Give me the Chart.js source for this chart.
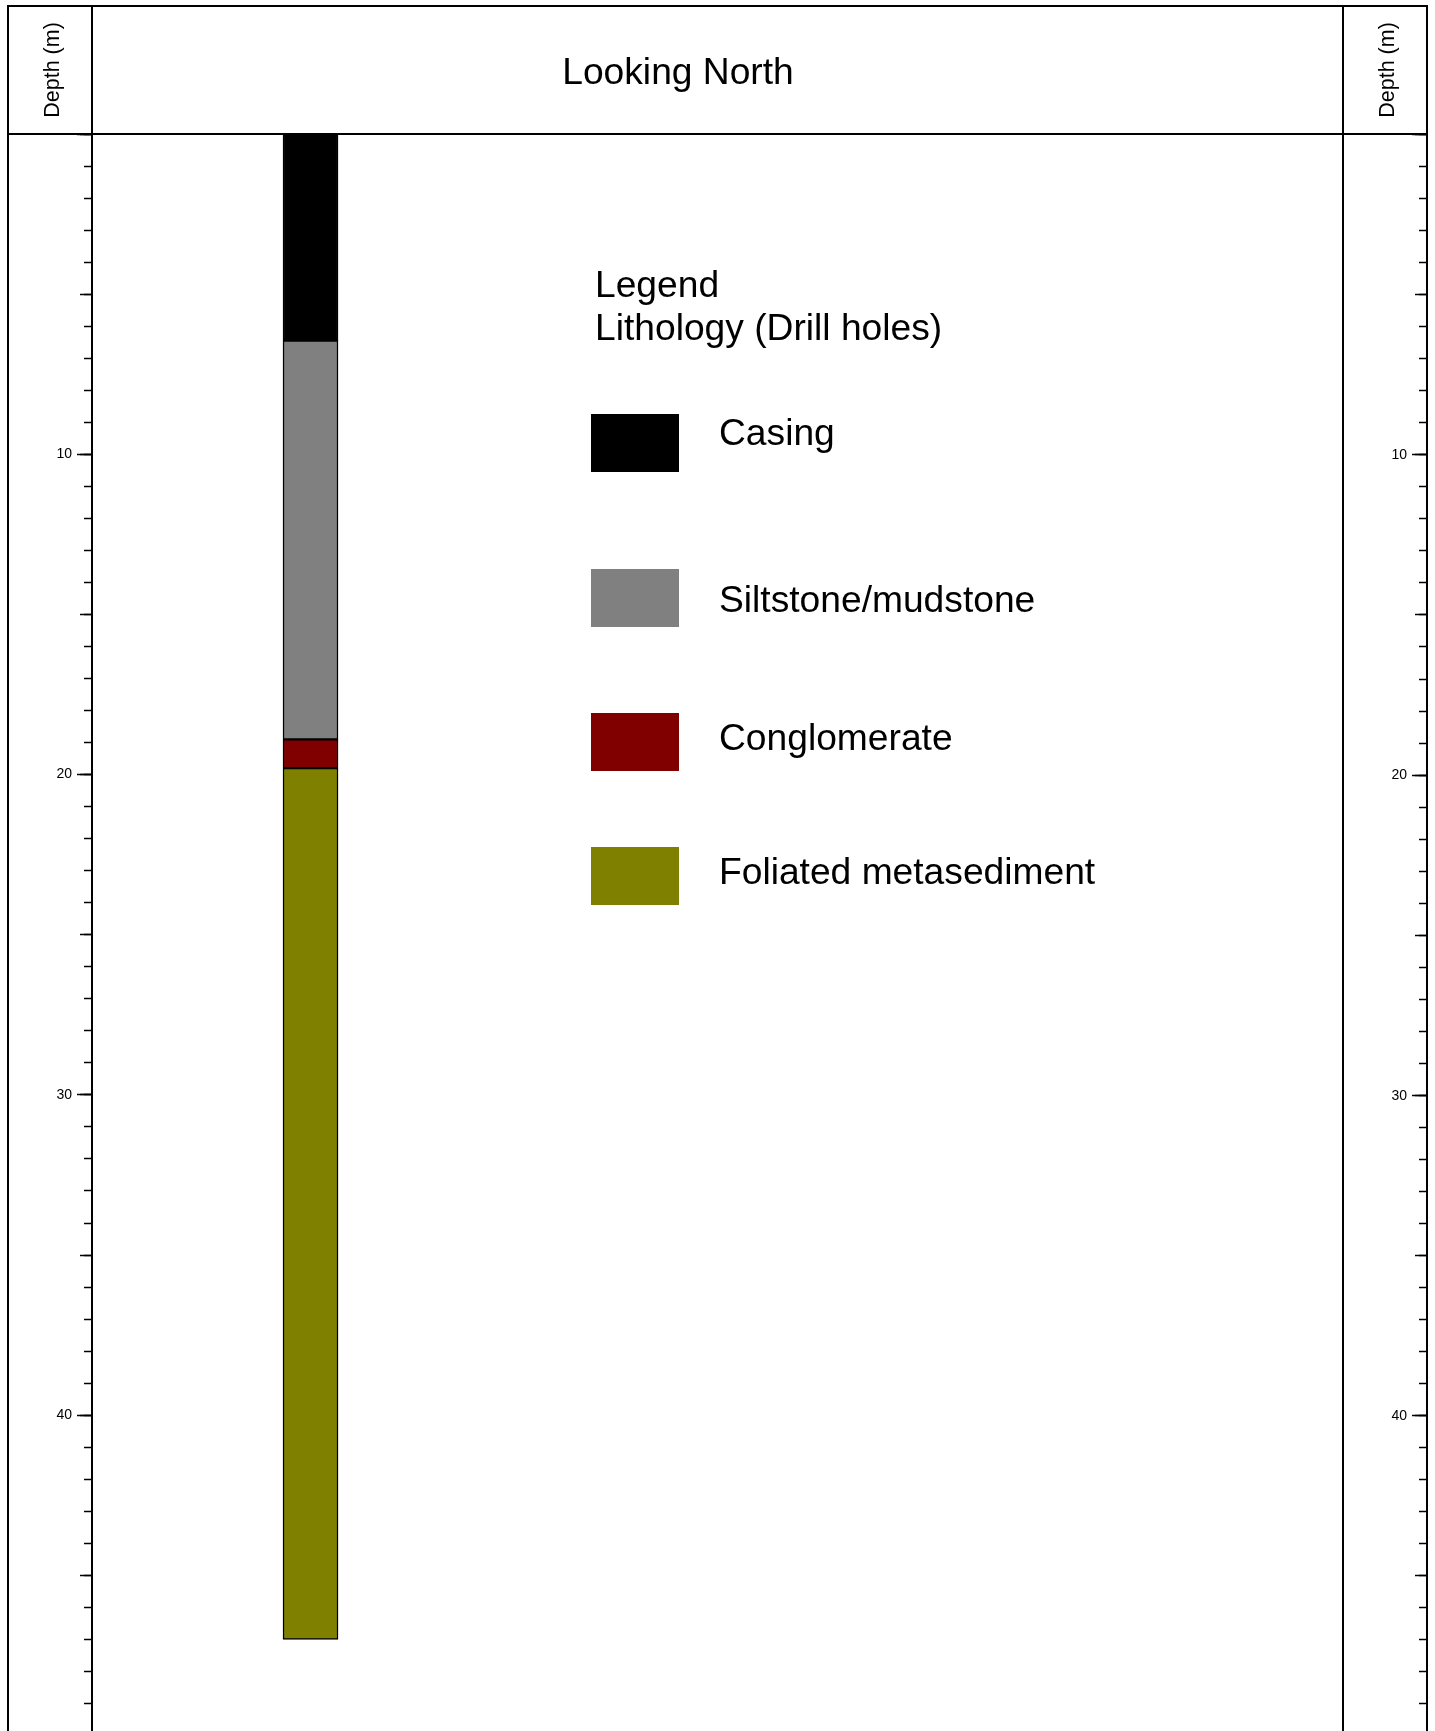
<!DOCTYPE html>
<html>
<head>
<meta charset="utf-8">
<script src="https://cdn.jsdelivr.net/npm/chart.js@4.4.1/dist/chart.umd.min.js"></script>
<style>
  html, body { margin: 0; padding: 0; background: #fff; }
  #wrap { width: 1435px; height: 1731px; position: relative; }
</style>
</head>
<body>
<div id="wrap"><canvas id="c"></canvas></div>
<script>
// ---- data ----
const units = ['Casing', 'Siltstone/mudstone', 'Conglomerate', 'Foliated metasediment'];
const fromDepth = [0, 6.45, 18.9, 19.8];
const toDepth = [6.45, 18.9, 19.8, 47.0];
const unitColors = ['#000000', '#808080', '#800000', '#808000'];
const holePosition = 0;
const depthMin = 0;
const depthMax = 49.86;
const titleText = 'Looking North';
const axisTitle = 'Depth (m)';
const legendTitleLines = ['Legend', 'Lithology (Drill holes)'];

// ---- layout (positions/styles) ----
const FONT = '"Liberation Sans", Arial, sans-serif';
const BIG = '37.2px ' + FONT;
const legendRowTop = [414, 569, 713, 847];
const legendTextBaseline = [445, 612, 750, 884];

const datasets = units.map((u, i) => ({
  label: u,
  data: [{ x: holePosition, y: [fromDepth[i], toDepth[i]] }],
  backgroundColor: unitColors[i],
  borderColor: '#000',
  borderWidth: 1.5,
  borderSkipped: false,
  barThickness: 55,
  grouped: false
}));

function fixFit(width) {
  return function (s) { s.width = width; s.paddingTop = 0; s.paddingBottom = 0; };
}

function tickAxis(step, len, weight) {
  return {
    type: 'linear', position: 'left', reverse: true, min: depthMin, max: depthMax, weight: weight,
    ticks: { display: false, stepSize: step, includeBounds: false, autoSkip: false, maxTicksLimit: 200 },
    grid: { drawOnChartArea: false, tickLength: len, tickWidth: 1.5, tickColor: '#000' },
    border: { display: false },
    afterFit: fixFit(0)
  };
}

const framePlugin = {
  id: 'frame',
  afterDraw(chart) {
    const ctx = chart.ctx;
    const a = chart.chartArea;
    const L = 8, T = 6, R = a.right + 84, B = chart.height;
    ctx.save();
    // right-side depth axis, from the library's scales
    ctx.strokeStyle = '#000';
    ctx.lineWidth = 1.5;
    const levels = [['yMinor', 8], ['yMid', 12], ['y', 15]];
    for (const [id, len] of levels) {
      const sc = chart.scales[id];
      for (const t of sc.ticks) {
        const py = Math.round(sc.getPixelForValue(t.value)) + 0.5;
        ctx.beginPath(); ctx.moveTo(R - len, py); ctx.lineTo(R, py); ctx.stroke();
      }
    }
    const ys = chart.scales.y;
    ctx.fillStyle = '#000';
    ctx.font = '14px ' + FONT;
    ctx.textAlign = 'right';
    ctx.textBaseline = 'middle';
    for (const t of ys.ticks) {
      if (t.value === 0) continue;
      ctx.fillText(String(t.value), R - 20, ys.getPixelForValue(t.value) + 1);
    }
    // frame lines
    ctx.lineWidth = 2;
    ctx.beginPath();
    ctx.moveTo(L, B); ctx.lineTo(L, T); ctx.lineTo(R, T); ctx.lineTo(R, B);
    ctx.moveTo(L, a.top); ctx.lineTo(R, a.top);
    ctx.moveTo(a.left, T); ctx.lineTo(a.left, B);
    ctx.moveTo(a.right, T); ctx.lineTo(a.right, B);
    ctx.stroke();
    // header texts
    ctx.font = BIG;
    ctx.textAlign = 'center';
    ctx.textBaseline = 'alphabetic';
    ctx.fillText(titleText, 678, 84);
    ctx.font = '21.5px ' + FONT;
    for (const x of [58.5, 1394]) {
      ctx.save();
      ctx.translate(x, 70);
      ctx.rotate(-Math.PI / 2);
      ctx.fillText(axisTitle, 0, 0);
      ctx.restore();
    }
    // legend
    ctx.font = BIG;
    ctx.textAlign = 'left';
    ctx.fillText(legendTitleLines[0], 595, 297);
    ctx.fillText(legendTitleLines[1], 595, 340);
    chart.data.datasets.forEach((ds, i) => {
      ctx.fillStyle = ds.backgroundColor;
      ctx.fillRect(591, legendRowTop[i], 88, 58);
      ctx.fillStyle = '#000';
      ctx.fillText(ds.label, 719, legendTextBaseline[i]);
    });
    ctx.restore();
  }
};

new Chart(document.getElementById('c'), {
  type: 'bar',
  data: { datasets: datasets },
  options: {
    responsive: true,
    maintainAspectRatio: false,
    animation: false,
    layout: { padding: { top: 134, right: 92, bottom: 0, left: 0 } },
    plugins: { legend: { display: false }, tooltip: { enabled: false }, title: { display: false } },
    scales: {
      x: { type: 'linear', display: false, offset: false, min: -2, max: 9.45 },
      y: {
        type: 'linear', position: 'left', reverse: true, min: depthMin, max: depthMax, weight: 2,
        ticks: {
          stepSize: 10, includeBounds: false, autoSkip: false, padding: 5, color: '#000',
          font: { size: 14, family: FONT },
          callback: (v) => (v === 0 ? '' : String(v))
        },
        grid: { drawOnChartArea: false, tickLength: 15, tickWidth: 1.5, tickColor: '#000' },
        border: { display: false },
        afterFit: fixFit(92)
      },
      yMid: tickAxis(5, 12, 1),
      yMinor: tickAxis(1, 8, 0)
    }
  },
  plugins: [framePlugin]
});
</script>
</body>
</html>
